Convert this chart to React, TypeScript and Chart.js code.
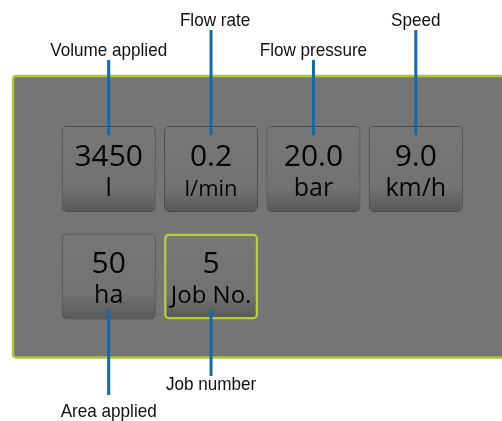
import React, { useEffect, useRef } from "react";
import { Chart, registerables } from "chart.js";

Chart.register(...registerables);

// ---- data ----
const columns = ["Col 1", "Col 2", "Col 3", "Col 4"];
const row1Values = ["3450", "0.2", "20.0", "9.0"];
const row1Units = ["l", "l/min", "bar", "km/h"];
const row1Callouts = ["Volume applied", "Flow rate", "Flow pressure", "Speed"];
const row2Values = ["50", "5"];
const row2Units = ["ha", "Job No."];
const row2Callouts = ["Area applied", "Job number"];
const selectedRow = 1;
const selectedCol = 1;

const rowSpan = (r: number) => [r + 0.1, r + 0.9];

const rowsValues = [row1Values, row2Values];
const rowsUnits = [row1Units, row2Units];
const rowsCallouts = [row1Callouts, row2Callouts];

const LABEL_FONT = '19px "Liberation Sans", Arial, sans-serif';
const VALUE_FONT = '30px "Open Sans", sans-serif';
const TEXT_COLOR = "#050505";
const LEADER = "#0f6bb0";

function drawLabel(ctx: CanvasRenderingContext2D, text: string, cx: number, baseline: number) {
  ctx.save();
  ctx.translate(cx, baseline);
  ctx.scale(0.9, 1);
  ctx.font = LABEL_FONT;
  ctx.fillStyle = "#111111";
  ctx.textAlign = "center";
  ctx.textBaseline = "alphabetic";
  ctx.fillText(text, 0, 0);
  ctx.restore();
}

const panelPlugin = {
  id: "panelPlugin",
  beforeDraw(chart: any) {
    const ctx: CanvasRenderingContext2D = chart.ctx;
    ctx.save();
    ctx.fillStyle = "#ffffff";
    ctx.fillRect(0, 0, chart.width, chart.height);
    ctx.beginPath();
    (ctx as any).roundRect(13, 76, chart.width + 20, 281.5, 3);
    ctx.fillStyle = "#757575";
    ctx.fill();
    ctx.lineWidth = 2.5;
    ctx.strokeStyle = "#a9c934";
    ctx.stroke();
    ctx.restore();
  },
  afterDatasetsDraw(chart: any) {
    const ctx: CanvasRenderingContext2D = chart.ctx;
    ctx.save();
    chart.data.datasets.forEach((_: any, di: number) => {
      const meta = chart.getDatasetMeta(di);
      const values = rowsValues[di];
      const units = rowsUnits[di];
      const callouts = rowsCallouts[di];
      meta.data.forEach((el: any, i: number) => {
        if (i >= values.length) return;
        const top = Math.min(el.y, el.base);
        const bottom = Math.max(el.y, el.base);
        const cx = el.x;
        // tile text
        ctx.fillStyle = TEXT_COLOR;
        ctx.textAlign = "center";
        ctx.textBaseline = "alphabetic";
        ctx.font = VALUE_FONT;
        ctx.fillText(values[i], cx, top + 39.5);
        const unitPx = units[i] === "l/min" ? 22 : units[i].length > 4 ? 24 : 25;
        ctx.font = `${unitPx}px "Open Sans", sans-serif`;
        ctx.fillText(units[i], cx, top + 69.5);
        // leader + callout
        const tier = i % 2; // 0 = near, 1 = far
        ctx.strokeStyle = LEADER;
        ctx.lineWidth = 3;
        ctx.beginPath();
        if (di === 0) {
          const baseline = tier === 0 ? 56 : 26;
          ctx.moveTo(cx, baseline + 4);
          ctx.lineTo(cx, top + 9);
          ctx.stroke();
          drawLabel(ctx, callouts[i], cx + (tier === 1 && i === 1 ? 4 : 0), baseline);
        } else {
          const baseline = tier === 0 ? 417 : 390;
          const end = tier === 0 ? 395 : 376;
          ctx.moveTo(cx, bottom - 10);
          ctx.lineTo(cx, end);
          ctx.stroke();
          drawLabel(ctx, callouts[i], cx, baseline);
        }
      });
    });
    ctx.restore();
  },
};

function tileFill(c: any) {
  const chart = c.chart;
  const raw = c.raw;
  const ys = chart.scales && chart.scales.y;
  if (!raw || !ys) return "#747474";
  const y0 = ys.getPixelForValue(raw[0]);
  const y1 = ys.getPixelForValue(raw[1]);
  if (!isFinite(y0) || !isFinite(y1) || y0 === y1) return "#747474";
  const g = chart.ctx.createLinearGradient(0, Math.min(y0, y1), 0, Math.max(y0, y1));
  g.addColorStop(0, "#777777");
  g.addColorStop(0.72, "#727272");
  g.addColorStop(1, "#575757");
  return g;
}

export default function App() {
  const ref = useRef<HTMLCanvasElement | null>(null);
  useEffect(() => {
    if (!ref.current) return;
    const isSel = (c: any) => c.datasetIndex === selectedRow && c.dataIndex === selectedCol;
    const chart = new Chart(ref.current, {
      type: "bar",
      data: {
        labels: columns,
        datasets: [0, 1].map((r) => ({
          label: `Row ${r + 1}`,
          data: columns.map((_, i) => (i < rowsValues[r].length ? rowSpan(r) : null)) as any,
          backgroundColor: tileFill as any,
          borderColor: ((c: any) => (isSel(c) ? "#b3d336" : "#484848")) as any,
          borderWidth: ((c: any) => (isSel(c) ? 2.5 : 1)) as any,
          borderRadius: 5,
          borderSkipped: false,
          grouped: false,
          categoryPercentage: 1,
          barPercentage: 0.918,
        })),
      },
      options: {
        responsive: false,
        animation: false,
        events: [],
        layout: { padding: { left: 57.5, right: 35, top: 115.25, bottom: 90.75 } },
        scales: {
          x: { display: false },
          y: { display: false, min: 0, max: 2, reverse: true },
        },
        plugins: { legend: { display: false }, tooltip: { enabled: false } },
      },
      plugins: [panelPlugin],
    });
    return () => chart.destroy();
  }, []);
  return (
    <div style={{ position: "absolute", left: 0, top: 0, width: 502, height: 421 }}>
      <canvas ref={ref} width={502} height={421} style={{ display: "block" }} />
    </div>
  );
}
